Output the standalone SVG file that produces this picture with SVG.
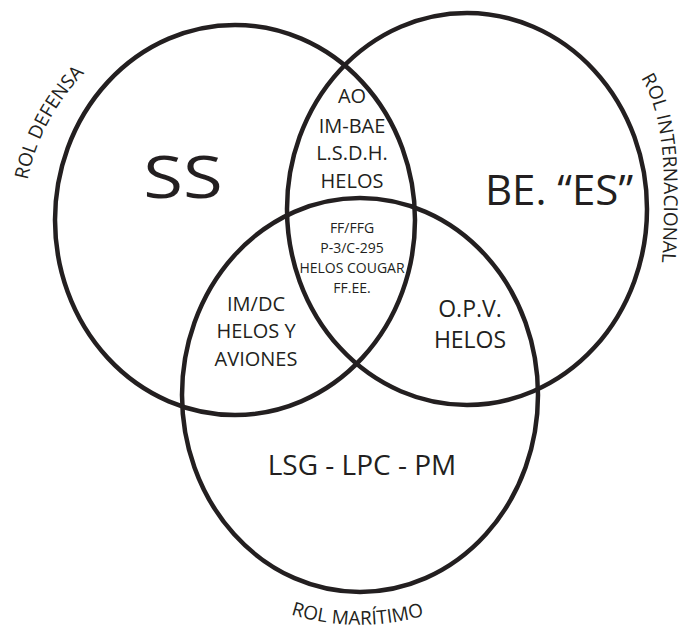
<svg xmlns="http://www.w3.org/2000/svg" width="681" height="630" viewBox="0 0 681 630">
<style>
.ring{fill:none;stroke:#231f20;stroke-width:4.5}
.t{font-family:"Open Sans","Noto Sans",sans-serif;fill:#231f20;text-anchor:middle}
.arc{font-family:"Open Sans","Noto Sans",sans-serif;fill:#231f20;font-size:19px}
</style>
<defs>
<path id="pDef" d="M 27.5 180 A 212 212 0 0 1 130 38"/>
<path id="pInt" d="M 641 78 C 656 101, 664 140, 664 190 S 662 270, 659 300"/>
<path id="pMar" d="M 288 613.5 A 231 231 0 0 0 442 609.5"/>
</defs>
<rect width="681" height="630" fill="#ffffff"/>
<g id="connectors"/>
<g id="defensa">
<ellipse class="ring" cx="235" cy="220" rx="180" ry="195"/>
<text class="t" x="0" y="0" font-size="58" transform="translate(183 198) scale(1.25 1)">SS</text>
<text class="arc"><textPath href="#pDef">ROL DEFENSA</textPath></text>
</g>
<g id="internacional">
<ellipse class="ring" cx="467" cy="209" rx="180" ry="196"/>
<text class="t" x="559" y="205" font-size="42">BE. “ES”</text>
<text class="arc"><textPath href="#pInt">ROL INTERNACIONAL</textPath></text>
</g>
<g id="maritimo">
<ellipse class="ring" cx="360" cy="395" rx="178" ry="197"/>
<text class="t" x="362" y="475" font-size="28">LSG - LPC - PM</text>
<text class="arc"><textPath href="#pMar" startOffset="3">ROL MARÍTIMO</textPath></text>
</g>
<g id="defensa-internacional">
<text class="t" font-size="20"><tspan x="352" y="103">AO</tspan><tspan x="352" y="133">IM-BAE</tspan><tspan x="352" y="160">L.S.D.H.</tspan><tspan x="352" y="188">HELOS</tspan></text>
</g>
<g id="centro">
<text class="t" font-size="14"><tspan x="352" y="233">FF/FFG</tspan><tspan x="352" y="253">P-3/C-295</tspan><tspan x="352" y="273">HELOS COUGAR</tspan><tspan x="352" y="293">FF.EE.</tspan></text>
</g>
<g id="defensa-maritimo">
<text class="t" font-size="20"><tspan x="256" y="311">IM/DC</tspan><tspan x="256" y="338">HELOS Y</tspan><tspan x="256" y="366">AVIONES</tspan></text>
</g>
<g id="internacional-maritimo">
<text class="t" font-size="23"><tspan x="470" y="317">O.P.V.</tspan><tspan x="470" y="348">HELOS</tspan></text>
</g>
</svg>
